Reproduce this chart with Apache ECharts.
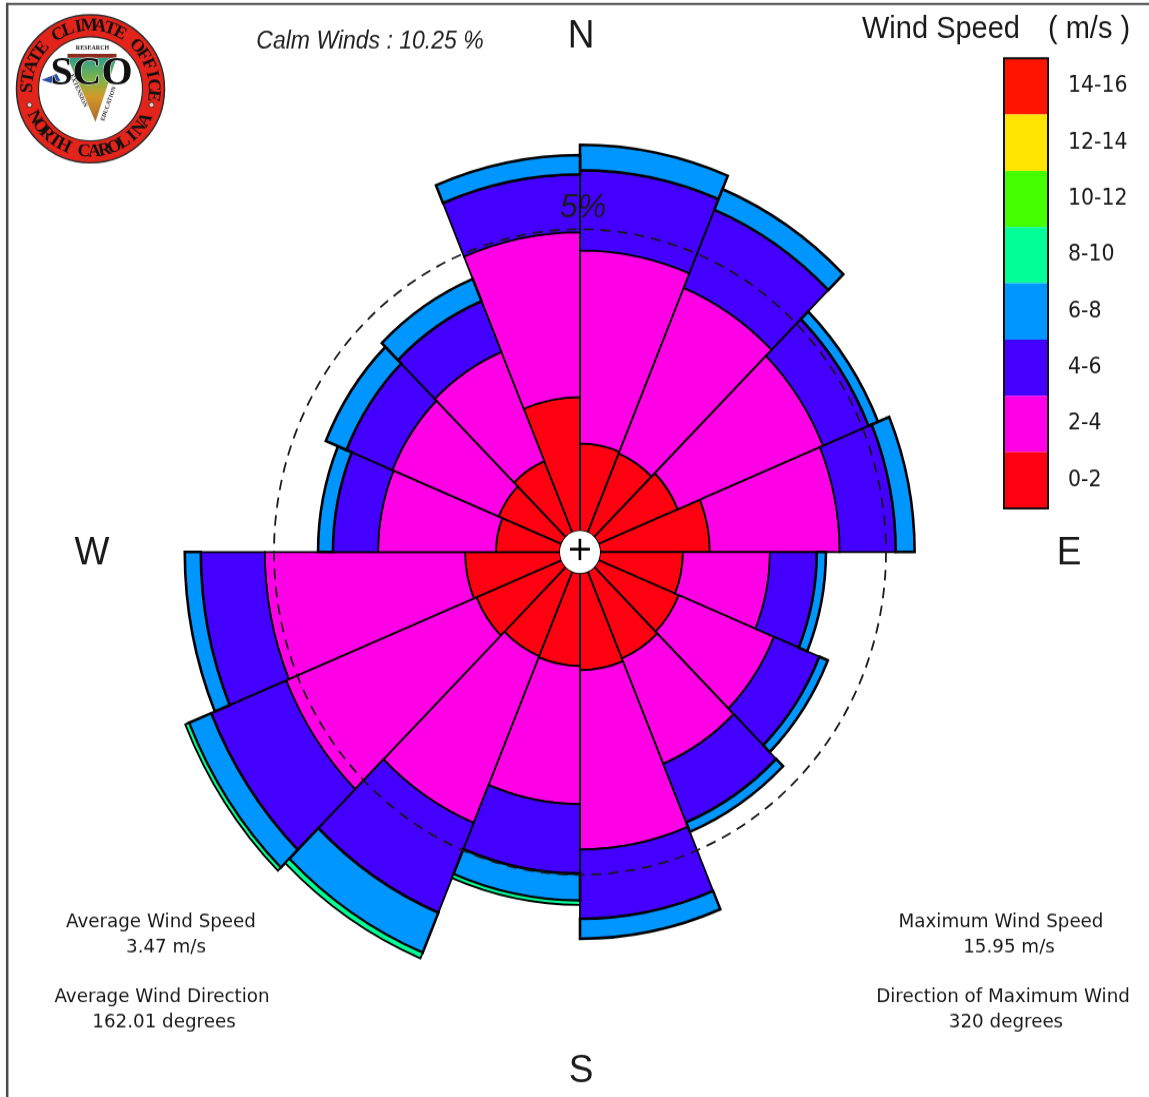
<!DOCTYPE html>
<html>
<head>
<meta charset="utf-8">
<script src="https://cdn.jsdelivr.net/npm/echarts@6/dist/echarts.min.js"></script>
<style>
html,body{margin:0;padding:0;background:#fff;overflow:hidden;}
#wrap{width:1149px;height:1097px;overflow:hidden;position:relative;background:#fff;}
#chart{width:1149px;height:1040px;transform:scaleY(1.054808);transform-origin:0 0;}
</style>
</head>
<body>
<div id="wrap"><div id="chart"></div></div>
<script>
// ---------- DATA ----------
const directions = ['N','NNE','NE','ENE','E','ESE','SE','SSE','S','SSW','SW','WSW','W','WNW','NW','NNW'];
const speedBins = ['0-2','2-4','4-6','6-8','8-10','10-12','12-14','14-16'];
const binColors = ['#FF0010','#FF00E6','#4400FF','#0096FF','#00FF96','#44FF00','#FFE400','#FF1400'];
// frequency (%) of each speed bin, per 22.5 degree sector, clockwise from north
const freq0_2  = [1.45,1.42,1.50,1.92,1.45,1.52,1.56,1.61,1.54,1.52,1.61,1.66,1.12,1.19,1.28,2.22];
const freq2_4  = [3.20,2.97,2.75,2.27,1.52,1.80,1.89,2.97,2.29,2.99,3.60,3.50,2.06,2.01,1.96,2.73];
const freq4_6  = [1.33,1.40,0.86,0.98,0.82,0.86,1.05,1.15,1.15,1.61,1.42,1.12,0.79,0.87,0.91,0.96];
const freq6_8  = [0.42,0.37,0.18,0.33,0.16,0.16,0.17,0.33,0.45,0.72,0.42,0.28,0.26,0.39,0.40,0.32];
const freq8_10 = [null,null,null,null,null,null,null,null,0.07,0.10,0.07,null,null,null,null,null];
const freq10_12 = [];
const freq12_14 = [];
const freq14_16 = [];
const binData = [freq0_2,freq2_4,freq4_6,freq6_8,freq8_10,freq10_12,freq12_14,freq14_16];
const refRingPct = 5;
const calmText = 'Calm Winds : 10.25 %';
const statsLeft = ['Average Wind Speed','3.47 m/s','Average Wind Direction','162.01 degrees'];
const statsRight = ['Maximum Wind Speed','15.95 m/s','Direction of Maximum Wind','320 degrees'];

// ---------- LAYOUT ----------
const SY = 1097/1040;
const Y = v => v/SY;
const CX = 580, CY = Y(552);
const HOLE = 20, PXPCT = 57.2, RMAX = 8;

const chart = echarts.init(document.getElementById('chart'), null, {renderer:'canvas'});

const series = speedBins.map((b,i)=>({
  type:'bar', coordinateSystem:'polar', name:b, stack:'wind',
  data: binData[i], barCategoryGap:'0%', z:2,
  itemStyle:{color:binColors[i], borderColor:'#000', borderWidth:(i===3?2.6:1.8)},
  emphasis:{disabled:true}
}));

function txt(text,x,y,font,align,fill){
  return {type:'text', x:x, y:y, z:20, silent:true,
    style:{text:text, font:font, fill:fill||'#1a1a1a', textAlign:align||'center',
      textVerticalAlign:'middle', verticalAlign:'middle'}};
}
function arcText(str,r,startDeg,stepDeg,top,font){
  const out=[];
  for(let i=0;i<str.length;i++){
    const ch=str[i]; if(ch===' ') continue;
    const th=(startDeg+i*stepDeg)*Math.PI/180;
    out.push({type:'text', x:r*Math.cos(th), y:-r*Math.sin(th),
      rotation: top? th-Math.PI/2 : th-3*Math.PI/2,
      style:{text:ch, font:font, fill:'#111', textAlign:'center', textVerticalAlign:'middle', verticalAlign:'middle'}});
  }
  return out;
}

const logo = {
  type:'group', x:90.5, y:Y(88.8), scaleY:1/SY, z:30, silent:true,
  children:[
    {type:'circle', shape:{cx:0,cy:0,r:74}, style:{fill:'#E3241B', stroke:'#2a2a2a', lineWidth:1.5}},
    {type:'circle', shape:{cx:0,cy:0,r:52}, style:{fill:'#fff', stroke:'#2a2a2a', lineWidth:1.2}},
    {type:'circle', shape:{cx:-61,cy:16,r:2.5}, style:{fill:'#f4d0c8', stroke:'#222', lineWidth:0.8}},
    {type:'circle', shape:{cx:61,cy:16,r:2.5}, style:{fill:'#f4d0c8', stroke:'#222', lineWidth:0.8}},
    {type:'polygon', shape:{points:[[-23,-31],[26,-31],[5,33]]},
      style:{fill:new echarts.graphic.LinearGradient(0,0,0,1,[
        {offset:0,color:'#2f9f8a'},{offset:0.35,color:'#7fb545'},{offset:0.6,color:'#d49a2c'},{offset:1,color:'#a8682e'}])}},
    {type:'rect', shape:{x:-23,y:-35,width:49,height:4}, style:{fill:'#8b2b1f'}},
    {type:'polygon', shape:{points:[[-49,-9],[-34,-15],[-30,-8],[-40,-6]]}, style:{fill:'#2b4fa8'}},
    {type:'text', x:1, y:-15, style:{text:'SCO', font:'bold 40px "Liberation Serif"', fill:'#111', stroke:'#fff', lineWidth:1, textAlign:'center', textVerticalAlign:'middle', verticalAlign:'middle'}},
    {type:'text', x:2, y:-41, style:{text:'RESEARCH', font:'bold 6px "Liberation Serif"', fill:'#222', textAlign:'center', textVerticalAlign:'middle', verticalAlign:'middle'}},
    {type:'text', x:-12, y:2, rotation:-66*Math.PI/180, style:{text:'EXTENSION', font:'bold 6px "Liberation Serif"', fill:'#222', textAlign:'center', textVerticalAlign:'middle', verticalAlign:'middle'}},
    {type:'text', x:18, y:15, rotation:71*Math.PI/180, style:{text:'EDUCATION', font:'bold 6px "Liberation Serif"', fill:'#222', textAlign:'center', textVerticalAlign:'middle', verticalAlign:'middle'}}
  ].concat(arcText('STATE CLIMATE OFFICE',63,179,-9.75,true,'bold 18px "Liberation Serif"'))
   .concat(arcText('NORTH CAROLINA',63,207,9.5,false,'bold 18px "Liberation Serif"'))
};

const graphics = [
  {type:'line', z:25, silent:true, shape:{x1:6,y1:Y(4),x2:1149,y2:Y(4)}, style:{stroke:'#4a4a4a', lineWidth:2}},
  {type:'line', z:25, silent:true, shape:{x1:7.2,y1:Y(3),x2:7.2,y2:1040}, style:{stroke:'#4a4a4a', lineWidth:2.5}},
  logo,
  txt(calmText,370,Y(42),'italic 23px "Liberation Sans"','center','#222'),
  txt('N',581,Y(37),'37px "Liberation Sans"'),
  txt('W',92,Y(554),'37px "Liberation Sans"'),
  txt('E',1069,Y(554),'37px "Liberation Sans"'),
  txt('S',581,Y(1071),'37px "Liberation Sans"'),
  txt(refRingPct+'%',583,Y(208),'italic 32px "Liberation Sans"','center','#1a1a1a'),
  txt('Wind Speed',862,Y(30),'29px "Liberation Sans"','left','#1a1a1a'),
  txt('( m/s )',1048,Y(30),'29px "Liberation Sans"','left','#1a1a1a'),
  txt(statsLeft[0],161,Y(922),'18.3px "DejaVu Sans"'),
  txt(statsLeft[1],166,Y(947),'18.3px "DejaVu Sans"'),
  txt(statsLeft[2],162,Y(997),'18.3px "DejaVu Sans"'),
  txt(statsLeft[3],164,Y(1022),'18.3px "DejaVu Sans"'),
  txt(statsRight[0],1001,Y(922),'18.3px "DejaVu Sans"'),
  txt(statsRight[1],1009,Y(947),'18.3px "DejaVu Sans"'),
  txt(statsRight[2],1003,Y(997),'18.3px "DejaVu Sans"'),
  txt(statsRight[3],1006,Y(1022),'18.3px "DejaVu Sans"'),
  {type:'rect', z:25, silent:true, shape:{x:1004,y:Y(58.3),width:44,height:Y(450)}, style:{fill:'none', stroke:'#111', lineWidth:2}},
  {type:'circle', z:20, silent:true, shape:{cx:CX,cy:CY,r:HOLE}, style:{fill:'#fff'}},
  txt('+',CX,CY-1,'32px "DejaVu Sans"','center','#000')
];

const option = {
  animation:false,
  backgroundColor:'#fff',
  polar:{center:[CX,CY], radius:[HOLE, HOLE+RMAX*PXPCT]},
  angleAxis:{type:'category', data:directions, startAngle:90, clockwise:true, boundaryGap:true,
    axisLine:{show:false}, axisTick:{show:false}, axisLabel:{show:false}, splitLine:{show:false}},
  radiusAxis:{type:'value', min:0, max:RMAX, interval:refRingPct, z:10,
    axisLine:{show:false}, axisTick:{show:false}, axisLabel:{show:false},
    splitLine:{show:true, lineStyle:{color:['rgba(0,0,0,0)','#1a1a1a','rgba(0,0,0,0)','rgba(0,0,0,0)'], width:1.8, type:[10,7]}}},
  legend:{orient:'vertical', left:1004, top:Y(58.3), padding:0, itemWidth:44, itemHeight:Y(450)/8, itemGap:0,
    icon:'rect', selectedMode:false, data:speedBins.slice().reverse(),
    itemStyle:{borderWidth:0},
    textStyle:{fontSize:20.5, fontFamily:'DejaVu Sans', color:'#1a1a1a', padding:[0,0,0,15]}},
  series:series,
  graphic:graphics
};
chart.setOption(option);
</script>
</body>
</html>
